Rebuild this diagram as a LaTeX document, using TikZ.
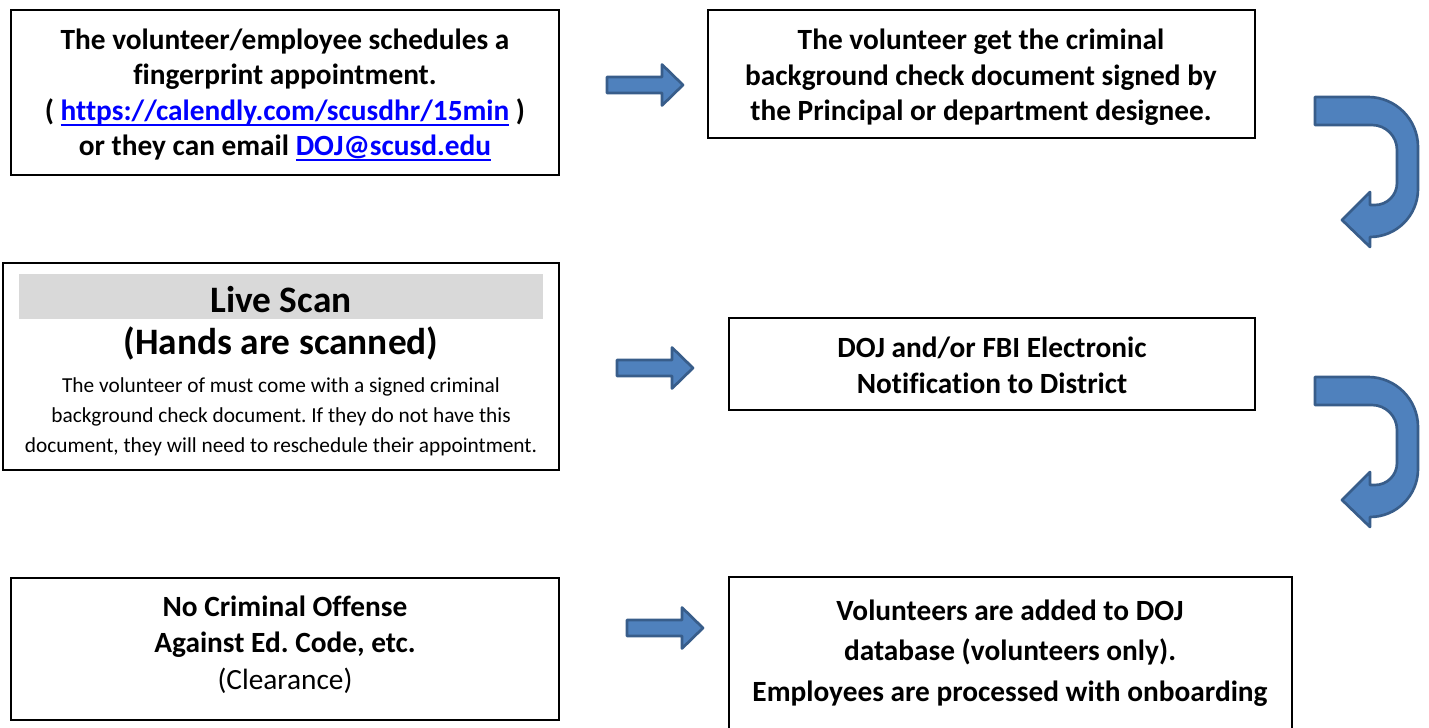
\documentclass[tikz,border=0pt]{standalone}
\usepackage{fontspec}
\setmainfont{Carlito}[Ligatures=NoCommon]
\frenchspacing
\definecolor{arrfill}{HTML}{4F81BD}
\definecolor{arrline}{HTML}{385D8A}
\definecolor{bandgray}{HTML}{D9D9D9}
\definecolor{linkblue}{HTML}{0000FF}
\tikzset{
  box/.style={draw=black, line width=1.3pt},
  blockarrow/.style={fill=arrfill, draw=arrline, line width=2pt, line join=round},
  txt/.style={align=center, font=\bfseries\fontsize{22}{26.6}\selectfont, inner sep=0pt},
  bigtxt/.style={align=center, font=\bfseries\fontsize{28}{32}\selectfont, inner sep=0pt, anchor=base},
  bodytxt/.style={align=center, font=\fontsize{16}{22.5}\selectfont, inner sep=0pt},
}
\newcommand{\lnk}[1]{\textcolor{linkblue}{\setbox0\hbox{#1}\rlap{\rule[-4.2pt]{\wd0}{1.5pt}}\box0}}
\begin{document}
\begin{tikzpicture}[x=0.75pt,y=0.75pt]
\useasboundingbox (0,0) rectangle (1429,728);
% boxes
\draw[box] (11,718) rectangle (559,553);
\draw[box] (708,718) rectangle (1255,590);
\draw[box] (3,465) rectangle (559,258);
\fill[bandgray] (19,454) rectangle (543,409);
\draw[box] (729,410) rectangle (1255,318);
\draw[box] (11,150) rectangle (559,8);
\draw[box] (729,151) rectangle (1292,-4);
% texts
\node[txt] (t1) at (285,633) {The volunteer/employee schedules a\\ fingerprint appointment.\\ ( \lnk{https://calendly.com/scusdhr/15min} )\\ or they can email \lnk{DOJ@scusd.edu}};
\node[txt] (t2) at (981,650.5) {The volunteer get the criminal\\ background check document signed by\\ the Principal or department designee.};
\node[bigtxt] (t3a) at (281,415) {Live Scan};
\node[bigtxt] (t3b) at (281,373) {(Hands are scanned)};
\node[bodytxt] (t3c) at (281,311) {The volunteer of must come with a signed criminal\\ background check document. If they do not have this\\ document, they will need to reschedule their appointment.};
\node[txt, font=\bfseries\fontsize{22}{27}\selectfont] (t4) at (992,363) {DOJ and/or FBI Electronic\\ Notification to District};
\node[txt, font=\bfseries\fontsize{22}{27.5}\selectfont] (t5) at (285,83.5) {No Criminal Offense\\ Against Ed. Code, etc.\\ {\mdseries (Clearance)}};
\node[txt, font=\bfseries\fontsize{22}{30.4}\selectfont] (t6) at (1010,75) {Volunteers are added to DOJ\\ database (volunteers only).\\ Employees are processed with onboarding};
% right block arrows
\foreach \ax/\ay in {607/643, 617/360, 627/100}{
  \path[blockarrow] (\ax,\ay) ++(0,-8) -- ++(55,0) -- ++(0,-12.5) -- ++(21,20.5) -- ++(-21,20.5) -- ++(0,-12.5) -- ++(-55,0) -- cycle;
}
% U-turn arrows
\foreach \sh in {0,-280}{
\begin{scope}[shift={(0,\sh)}]
\path[blockarrow] (1315,631) -- (1368,631) arc[start angle=90,end angle=0,radius=50]
  -- (1418,539) arc[start angle=0,end angle=-90,radius=48]
  -- (1370,481) -- (1342,508) -- (1370,536) -- (1370,523) -- (1375,523)
  arc[start angle=-90,end angle=0,radius=22]
  -- (1397,578) arc[start angle=0,end angle=90,radius=25]
  -- (1315,603) -- cycle;
\end{scope}
}
\end{tikzpicture}
\end{document}
